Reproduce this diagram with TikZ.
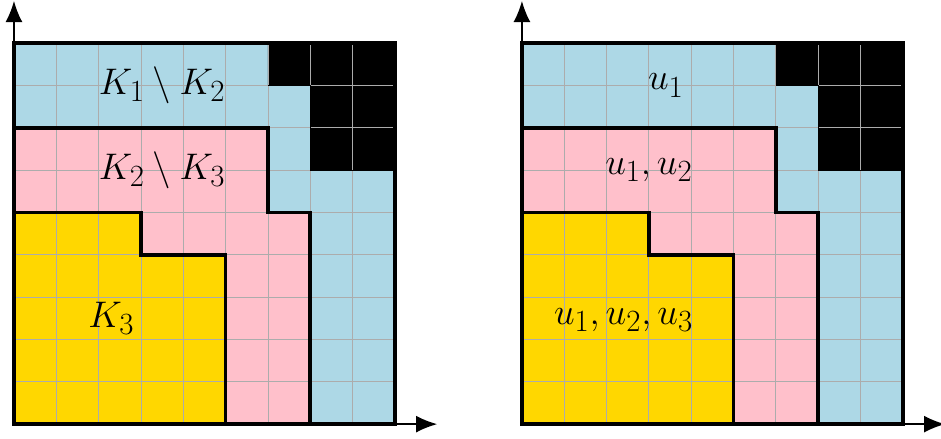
\documentclass[tikz,border=0pt]{standalone}
\usepackage{amsmath,amssymb}
\usetikzlibrary{arrows.meta}

\definecolor{setblue}{HTML}{ADD8E6}
\definecolor{setpink}{HTML}{FFC0CB}
\definecolor{setgold}{HTML}{FFD700}

\begin{document}
\begin{tikzpicture}[
  gridline/.style={draw=gray!65, line width=0.6pt},
  border/.style={line width=2.5pt, line join=miter},
  axis/.style={-{Latex[length=5mm,width=4mm]}, line width=1.2pt},
  lbl/.style={font=\fontsize{27.5}{32}\selectfont}
]
  \useasboundingbox (-0.33,-0.35) rectangle (21.9,10.02);

  % two panels, same pattern
  \foreach \ox in {0,12} {
    \begin{scope}[xshift=\ox cm]
      \coordinate (org\ox) at (0,0);
      \coordinate (ytip\ox) at (0,10);
      \coordinate (xtip\ox) at (10,0);
      \fill[setblue] (0,0) rectangle (9,9);
      \fill[setpink] (0,0) -- (0,7) -- (6,7) -- (6,5) -- (7,5) -- (7,0) -- cycle;
      \fill[setgold] (0,0) -- (0,5) -- (3,5) -- (3,4) -- (5,4) -- (5,0) -- cycle;
      \fill[black] (6,9) -- (9,9) -- (9,6) -- (7,6) -- (7,8) -- (6,8) -- cycle;
      \draw[gridline] (0,0) grid (9,9);
      \draw[black, line width=0.6pt] (6,8) -- (7,8) -- (7,6) -- (9,6);
      % region boundaries
      \draw[border] (0,7) -- (6,7) -- (6,5) -- (7,5) -- (7,0);
      \draw[border] (0,5) -- (3,5) -- (3,4) -- (5,4) -- (5,0);
      \draw[border] (0,9) -- (9,9) -- (9,0) -- (0,0) -- cycle;
      \draw[axis] (org\ox) -- (ytip\ox);
      \draw[axis] (org\ox) -- (xtip\ox);
    \end{scope}
  }

  \node[lbl] (kone) at (3.5,8) {$K_1\setminus K_2$};
  \node[lbl] (ktwo) at (3.5,6) {$K_2\setminus K_3$};
  \node[lbl] (kthree) at (2.3,2.5) {$K_3$};
  \node[lbl] (uone) at (15.4,8) {$u_1$};
  \node[lbl] (utwo) at (15.0,6) {$u_1,u_2$};
  \node[lbl] (uthree) at (14.4,2.45) {$u_1,u_2,u_3$};
\end{tikzpicture}
\end{document}
